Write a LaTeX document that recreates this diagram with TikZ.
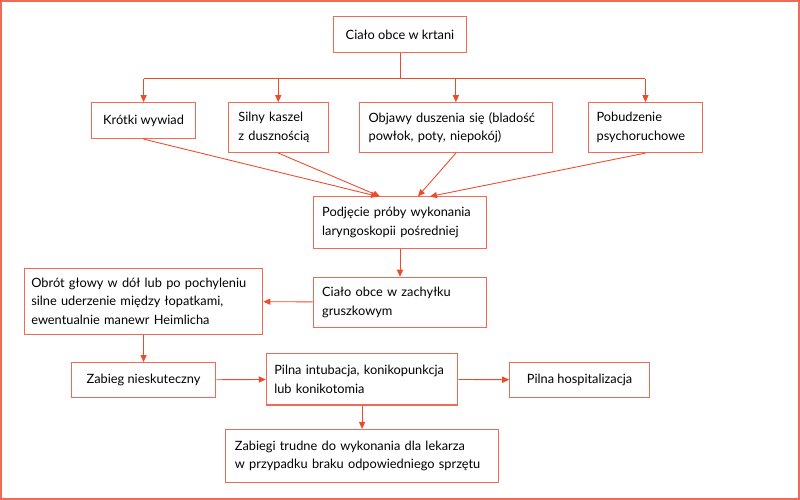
\documentclass[tikz,border=0pt]{standalone}
\usepackage{fontspec}
\setmainfont{Lato}
\usepackage{xcolor}
\definecolor{flowred}{HTML}{EE4B2B}
\definecolor{boxred}{HTML}{F06A55}
\usetikzlibrary{arrows.meta}

\begin{document}
\begin{tikzpicture}[x=0.02cm, y=-0.02cm,
    box/.style={draw=boxred, line width=0.6pt, rectangle, align=left, inner sep=0pt,
        font=\fontsize{7.3}{10.6}\selectfont},
    arr/.style={draw=flowred, line width=0.5pt, -{Triangle[length=4pt,width=3.5pt]}}]
                \draw[boxred, line width=1pt] (0,0) rectangle (800,499);
                \node[box, minimum width=133*0.02cm, minimum height=36*0.02cm] (root) at (400,34) {Ciało obce w krtani};
                \node[box, minimum width=104*0.02cm, minimum height=36*0.02cm] (wyw) at (143,120) {Krótki wywiad};
                \node[box, minimum width=100*0.02cm, minimum height=50*0.02cm, text width=80*0.02cm] (kasz) at (278,127) {Silny kaszel\\z dusznością};
                \node[box, minimum width=193*0.02cm, minimum height=50*0.02cm, text width=175*0.02cm] (dusz) at (456,127) {Objawy duszenia się (bladość\\powłok, poty, niepokój)};
                \node[box, minimum width=114*0.02cm, minimum height=50*0.02cm, text width=98*0.02cm] (pob) at (646,127) {Pobudzenie\\psychoruchowe};
                \node[box, minimum width=174*0.02cm, minimum height=52*0.02cm, text width=156*0.02cm] (lar) at (400,222) {Podjęcie próby wykonania\\laryngoskopii pośredniej};
                \node[box, minimum width=174*0.02cm, minimum height=50*0.02cm, text width=156*0.02cm] (zach) at (400,302) {Ciało obce w zachyłku\\gruszkowym};
                \node[box, minimum width=239*0.02cm, minimum height=66*0.02cm, text width=225*0.02cm] (obr) at (143,301) {Obrót głowy w dół lub po pochyleniu\\silne uderzenie między łopatkami,\\ewentualnie manewr Heimlicha};
                \node[box, minimum width=145*0.02cm, minimum height=35*0.02cm] (niesk) at (143,380) {Zabieg nieskuteczny};
                \node[box, minimum width=192*0.02cm, minimum height=52*0.02cm, text width=176*0.02cm] (intub) at (362,379) {Pilna intubacja, konikopunkcja\\lub konikotomia};
                \node[box, minimum width=140*0.02cm, minimum height=35*0.02cm] (hosp) at (580,380) {Pilna hospitalizacja};
                \node[box, minimum width=273*0.02cm, minimum height=53*0.02cm, text width=255*0.02cm] (trud) at (362,456) {Zabiegi trudne do wykonania dla lekarza\\w przypadku braku odpowiedniego sprzętu};

                \coordinate (br) at (400,78);
                \draw[flowred, line width=0.5pt] (root) -- (br) (143,78) -- (646,78);
                \draw[arr] (143,78) -- (wyw);
                \draw[arr] (278,78) -- (kasz);
                \draw[arr] (456,78) -- (dusz);
                \draw[arr] (646,78) -- (pob);
                \draw[arr] (wyw.south) -- (378,196);
                \draw[arr] (kasz.south) -- (380,196);
                \draw[arr] (dusz.south) -- (418,196);
                \draw[arr] (pob.south) -- (430,196);
                \draw[arr] (lar) -- (zach);
                \draw[arr] (zach) -- (obr);
                \draw[arr] (obr) -- (niesk);
                \draw[arr] (niesk) -- (intub);
                \draw[arr] (intub) -- (hosp);
                \draw[arr] (intub) -- (trud);
            \end{tikzpicture}
\end{document}
